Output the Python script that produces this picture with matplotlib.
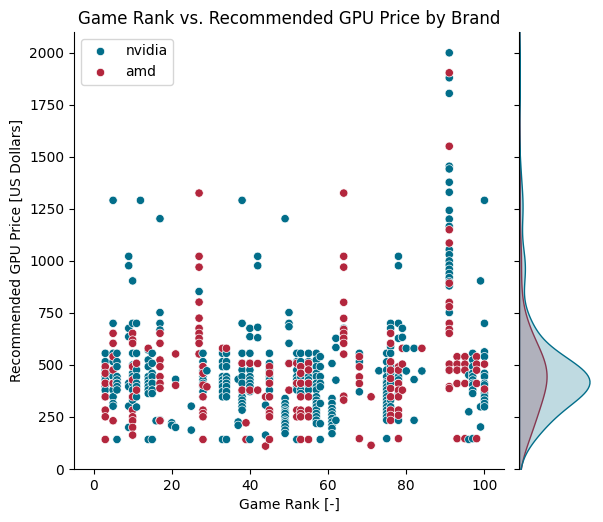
import matplotlib
matplotlib.use('Agg')
import matplotlib.pyplot as plt
import seaborn as sns
import pandas as pd

# game rank -> recommended gpu prices
# (stacked columns hide repeated prices, those are listed more than once)
nvidia_by_rank = {
    3: [556, 516, 476, 444, 428, 412, 396, 379, 379, 347],
    5: [1291, 700, 556, 516, 460, 444, 412, 412, 380, 347, 315, 302],
    6: [556, 516, 492, 444, 428, 412, 412, 396, 380, 142],
    9: [1022, 977, 676, 636, 412, 396, 302, 200],
    10: [904, 700, 556, 500, 460, 444, 428, 412, 380, 347, 331],
    11: [700, 556, 508, 476, 444, 412, 396, 347, 298],
    12: [1291],
    14: [572, 524, 492, 444, 428, 412, 396, 380, 363, 142],
    15: [556, 508, 460, 444, 412, 412, 380, 363, 142],
    16: [232],
    17: [1203, 752, 700, 668, 235],
    20: [222, 210],
    21: [431, 200],
    25: [302, 187],
    27: [853],
    28: [556, 516, 492, 472, 444, 428, 412, 396, 372, 347],
    29: [472],
    33: [556, 516, 492, 444, 428, 412, 396, 372, 347, 142],
    34: [556, 516, 492, 444, 428, 412, 396, 372, 347, 142],
    37: [431, 226, 210],
    38: [1291, 700, 556, 508, 476, 444, 412, 372, 347, 331, 315, 299, 283],
    40: [676, 636, 556, 508, 476, 444, 428, 412, 396, 372, 142],
    42: [1022, 977, 681, 631],
    44: [307, 163],
    45: [556, 508, 476, 444, 428, 412, 379, 347],
    49: [1203, 339, 315, 298, 283, 275, 267, 251, 235, 227, 219, 203, 187, 171],
    50: [752, 700, 684, 604, 508],
    52: [556, 516, 476, 444, 428, 412, 396, 380, 142],
    53: [556, 516, 492, 460, 444, 412, 412, 380, 363],
    55: [556, 516, 476, 444, 428, 412, 396, 380],
    57: [556, 524, 492, 460, 444, 412, 396, 380, 347, 331, 315, 299, 283, 267, 251, 235, 219],
    58: [540, 492, 444, 412, 395, 315, 218, 142],
    61: [507, 339, 315, 291, 275, 260, 243, 226, 210, 195, 170],
    62: [628, 584, 427, 234],
    64: [676],
    68: [556, 516, 371],
    73: [472],
    75: [556, 515, 476, 444, 420, 412, 395, 380, 363, 347, 331, 315, 299, 283, 267, 251, 235, 146],
    76: [700, 676, 588, 556, 492, 460, 428, 412, 331, 299],
    78: [1022, 977, 700, 628, 476, 444, 428, 412, 363, 234],
    79: [676, 633],
    80: [580, 471],
    82: [580, 430, 234],
    84: [471],
    91: [2000, 1880, 1805, 1455, 1442, 1378, 1330, 1243, 1201, 1166, 1054,
         1030, 1000, 980, 960, 940, 920, 900, 880, 752, 476],
    96: [451, 275, 142],
    97: [556, 524, 492, 460, 444, 428, 412, 404, 380, 363, 146],
    99: [904, 299, 202],
    100: [1291, 700, 563, 540, 460, 444, 412, 404, 380, 363, 347, 331, 315, 299],
}

amd_by_rank = {
    3: [492, 460, 412, 347, 283, 251, 142],
    5: [652, 604, 540, 476, 412, 232],
    10: [652, 620, 604, 492, 428, 347, 283, 251, 232, 200, 163],
    11: [508, 379],
    14: [580],
    17: [652, 604, 524, 492, 444, 412, 388, 232],
    21: [553, 402],
    27: [1326, 1022, 970, 802, 725, 676, 652, 628, 604, 553],
    28: [492, 460, 403, 347, 283, 267, 251, 142],
    29: [395],
    33: [580],
    34: [580],
    38: [508, 379],
    39: [222, 142],
    40: [508, 379],
    42: [507, 379],
    44: [347, 110],
    45: [492, 460, 412, 347, 283, 267, 251, 142],
    50: [507, 379],
    52: [508, 412, 283, 251],
    53: [492, 460, 412, 347, 283, 267, 251, 142],
    55: [508, 476, 412, 347, 283, 251, 142],
    64: [1326, 1022, 970, 801, 724, 671, 652, 628, 604, 552, 350, 331],
    68: [540, 491, 443, 411, 146],
    71: [347, 114],
    76: [652, 604, 515, 475, 435, 387, 347, 283, 258, 234],
    78: [491, 475, 411, 379, 347, 283, 258, 146],
    79: [580, 504, 379],
    84: [580],
    91: [1904, 1551, 1150, 1086, 893, 801, 780, 700, 671, 652, 504, 475, 396, 387],
    93: [540, 504, 475, 411, 146],
    95: [540, 504, 475, 411, 146],
    98: [540, 504, 475, 411, 146],
    100: [504, 384],
}

brands = ['nvidia', 'amd']
palette = {'nvidia': '#026e8a', 'amd': '#b3263d'}

rows = []
for r in sorted(set(nvidia_by_rank) | set(amd_by_rank)):
    for p in nvidia_by_rank.get(r, []):
        rows.append((r, p, 'nvidia'))
    for p in amd_by_rank.get(r, []):
        rows.append((r, p, 'amd'))
df = pd.DataFrame(rows, columns=['rank', 'price', 'brand'])

fig = plt.figure(figsize=(6.03, 5.22), dpi=100)
ax = fig.add_axes([0.1227, 0.1015, 0.7131, 0.8372])
ax_m = fig.add_axes([0.8607, 0.1015, 0.1227, 0.8372], sharey=ax)

sns.scatterplot(data=df, x='rank', y='price', hue='brand', hue_order=brands,
                palette=palette, ax=ax)
ax.legend(loc='upper left')
ax.set_xlim(-5, 105)
ax.set_ylim(0, 2100)
ax.set_xlabel('Game Rank [-]')
ax.set_ylabel('Recommended GPU Price [US Dollars]')
ax.set_title('Game Rank vs. Recommended GPU Price by Brand')
ax.spines['top'].set_visible(False)
ax.spines['right'].set_visible(False)

sns.kdeplot(data=df, y='price', hue='brand', hue_order=brands, palette=palette,
            fill=True, ax=ax_m, legend=False)
ax_m.set_ylim(0, 2100)
ax_m.set_xlabel('')
ax_m.set_ylabel('')
plt.setp(ax_m.get_yticklabels(), visible=False)
ax_m.tick_params(axis='x', bottom=False, labelbottom=False)
for s in ['top', 'right', 'bottom']:
    ax_m.spines[s].set_visible(False)

fig.savefig('out.png', dpi=100)
